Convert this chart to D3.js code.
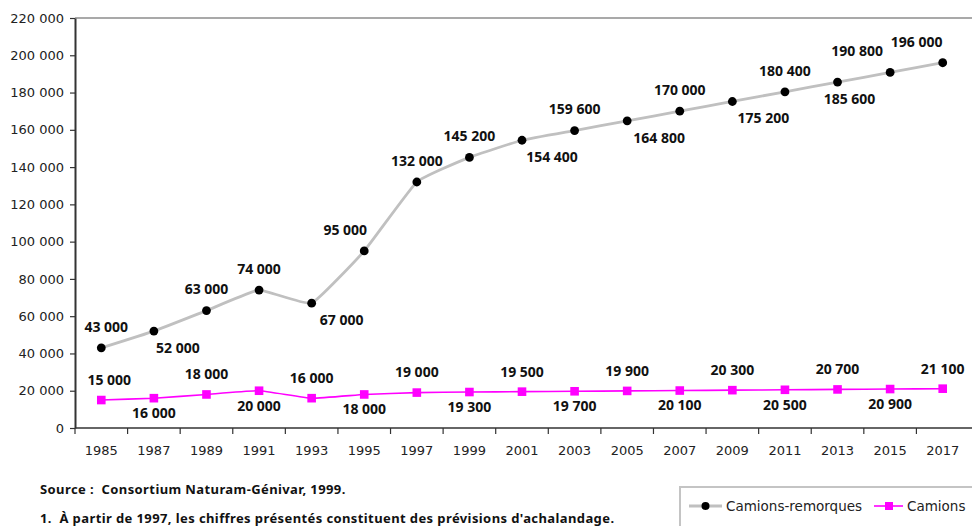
<!DOCTYPE html>
<html lang="fr">
<head>
<meta charset="utf-8">
<script src="https://cdn.jsdelivr.net/npm/d3@7"></script>
<style>
  html, body { margin: 0; padding: 0; background: #fff; }
  svg { display: block; }
</style>
</head>
<body>
<svg id="chart" width="972" height="526"></svg>
<script>
// Trafic annuel de camions, 1985-2017
const years = ["1985","1987","1989","1991","1993","1995","1997","1999","2001",
               "2003","2005","2007","2009","2011","2013","2015","2017"];
const camionsRemorques = [43000, 52000, 63000, 74000, 67000, 95000, 132000, 145200, 154400,
                          159600, 164800, 170000, 175200, 180400, 185600, 190800, 196000];
const camions = [15000, 16000, 18000, 20000, 16000, 18000, 19000, 19300, 19500,
                 19700, 19900, 20100, 20300, 20500, 20700, 20900, 21100];
const yTicks = [0, 20000, 40000, 60000, 80000, 100000, 120000, 140000, 160000,
                180000, 200000, 220000];
const seriesNames = ["Camions-remorques", "Camions"];
const sourceNote = "Source :  Consortium Naturam-Génivar, 1999.";
const footNote = "1.  À partir de 1997, les chiffres présentés constituent des prévisions d'achalandage.";

// Placement of the value labels: side of the point and horizontal shift
const remorquesLabelSide = ["up","down","up","up","down","up","up","up","down",
                            "up","down","up","down","up","down","up","up"];
const remorquesLabelShift = [5, 24, 0, 0, 30, -19, 0, 0, 30, 0, 32, 0, 31, 0, 12, -33, -26];
const camionsLabelSide = years.map((d, i) => i % 2 === 0 ? "up" : "down");
const camionsLabelShift = years.map((d, i) => i === 0 ? 8 : 0);

const svg = d3.select("#chart");
const plot = { left: 75, right: 969, top: 18, bottom: 428 };
const axisFont = "'DejaVu Sans', sans-serif";
const boldFont = "'Noto Sans', 'DejaVu Sans', sans-serif";

const x = d3.scaleBand().domain(years).range([plot.left, plot.right]).padding(0);
const y = d3.scaleLinear().domain([0, 220000]).range([plot.bottom, plot.top]);
const cx = d => x(d) + x.bandwidth() / 2;

const fr = d3.formatLocale({ decimal: ",", thousands: " ", grouping: [3], currency: ["", " $"] });
const fmt = fr.format(",");

// Upper frame line
svg.append("line")
  .attr("x1", plot.left).attr("x2", 972)
  .attr("y1", plot.top).attr("y2", plot.top)
  .attr("stroke", "#8c8c8c").attr("stroke-width", 1.5);

// Y axis
const yAxis = svg.append("g")
  .attr("transform", `translate(${plot.left},0)`)
  .call(d3.axisLeft(y).tickValues(yTicks).tickFormat(fmt).tickSize(5).tickPadding(6).tickSizeOuter(0));
yAxis.select(".domain").attr("stroke", "#333").attr("stroke-width", 2);
yAxis.selectAll(".tick line").attr("stroke", "#333").attr("stroke-width", 1.2);
yAxis.selectAll(".tick text")
  .attr("font-family", axisFont).attr("font-size", 13).attr("fill", "#222");

// X axis: ticks at category boundaries, labels centred in each category
const xAxis = svg.append("g").attr("transform", `translate(0,${plot.bottom})`);
xAxis.append("line")
  .attr("x1", plot.left).attr("x2", 972).attr("y1", 0).attr("y2", 0)
  .attr("stroke", "#333").attr("stroke-width", 1.5);
xAxis.selectAll("line.tick")
  .data(years)
  .join("line")
  .attr("class", "tick")
  .attr("x1", d => x(d)).attr("x2", d => x(d))
  .attr("y1", 0).attr("y2", 6)
  .attr("stroke", "#333").attr("stroke-width", 1.2);
xAxis.selectAll("text")
  .data(years)
  .join("text")
  .attr("x", d => cx(d)).attr("y", 22)
  .attr("dy", "0.35em")
  .attr("text-anchor", "middle")
  .attr("font-family", axisFont).attr("font-size", 13).attr("fill", "#222")
  .text(d => d);

// Lightly smoothed lines
const curve = d3.curveCardinal.tension(0.65);

const remorquesLine = d3.line().x((d, i) => cx(years[i])).y(d => y(d)).curve(curve);
const camionsLine = d3.line().x((d, i) => cx(years[i])).y(d => y(d)).curve(curve);

svg.append("path")
  .datum(camionsRemorques)
  .attr("d", remorquesLine)
  .attr("fill", "none").attr("stroke", "#c0c0c0").attr("stroke-width", 2.8);

svg.append("path")
  .datum(camions)
  .attr("d", camionsLine)
  .attr("fill", "none").attr("stroke", "#ff00ff").attr("stroke-width", 1.6);

// Markers
svg.append("g").selectAll("circle")
  .data(camionsRemorques)
  .join("circle")
  .attr("cx", (d, i) => cx(years[i])).attr("cy", d => y(d))
  .attr("r", 4.4).attr("fill", "#000");

svg.append("g").selectAll("rect")
  .data(camions)
  .join("rect")
  .attr("x", (d, i) => cx(years[i]) - 4.3).attr("y", d => y(d) - 4.3)
  .attr("width", 8.6).attr("height", 8.6).attr("fill", "#ff00ff");

// Value labels
function valueLabels(values, sides, shifts, upOff, downOff) {
  svg.append("g").selectAll("text")
    .data(values)
    .join("text")
    .attr("x", (d, i) => cx(years[i]) + shifts[i])
    .attr("y", (d, i) => y(d) + (sides[i] === "up" ? upOff : downOff))
    .attr("dy", "0.35em")
    .attr("text-anchor", "middle")
    .attr("font-family", boldFont).attr("font-weight", 700)
    .attr("font-size", 14).attr("fill", "#111")
    .text(d => fmt(d));
}
valueLabels(camionsRemorques, remorquesLabelSide, remorquesLabelShift, -21, 17);
valueLabels(camions, camionsLabelSide, camionsLabelShift, -20, 15);

// Notes (keep the double spaces)
[[sourceNote, 489], [footNote, 518]].forEach(([t, ty]) => {
  svg.append("text")
    .attr("x", 40).attr("y", ty).attr("dy", "0.35em")
    .style("white-space", "pre")
    .attr("font-family", boldFont).attr("font-weight", 700)
    .attr("font-size", 13).attr("letter-spacing", 0.4).attr("fill", "#111")
    .text(t);
});

// Legend
const legend = svg.append("g");
legend.append("rect")
  .attr("x", 680).attr("y", 487).attr("width", 310).attr("height", 60)
  .attr("fill", "#fff").attr("stroke", "#c4c4c4").attr("stroke-width", 2);

const legY = 506;
legend.append("line")
  .attr("x1", 689).attr("x2", 722).attr("y1", legY).attr("y2", legY)
  .attr("stroke", "#c0c0c0").attr("stroke-width", 2.8);
legend.append("circle").attr("cx", 705.5).attr("cy", legY).attr("r", 4).attr("fill", "#000");
legend.append("text")
  .attr("x", 726).attr("y", legY).attr("dy", "0.35em")
  .attr("font-family", axisFont).attr("font-size", 13.5).attr("fill", "#222")
  .text(seriesNames[0]);

legend.append("line")
  .attr("x1", 874).attr("x2", 903).attr("y1", legY).attr("y2", legY)
  .attr("stroke", "#ff00ff").attr("stroke-width", 1.6);
legend.append("rect")
  .attr("x", 885).attr("y", legY - 4).attr("width", 8).attr("height", 8).attr("fill", "#ff00ff");
legend.append("text")
  .attr("x", 907).attr("y", legY).attr("dy", "0.35em")
  .attr("font-family", axisFont).attr("font-size", 13.5).attr("fill", "#222")
  .text(seriesNames[1]);
</script>
</body>
</html>
